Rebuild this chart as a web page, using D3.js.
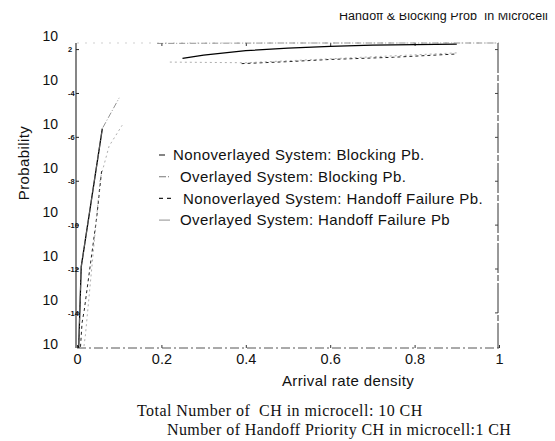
<!DOCTYPE html>
<html>
<head>
<meta charset="utf-8">
<script src="https://cdn.jsdelivr.net/npm/d3@7"></script>
<style>
  body { margin: 0; background: #fff; }
  svg { display: block; }
  text { font-family: Arial, "Liberation Sans", sans-serif; fill: #111; white-space: pre; }
  .serif { font-family: "Times New Roman", "Liberation Serif", serif; }
</style>
</head>
<body>
<div id="chart"></div>
<script>
// values, y given as log10(probability); null = line not visible in scan
var blockNonX   = [0, 0.01, 0.06, 0.15, 0.25, 0.3, 0.4, 0.5, 0.6, 0.7, 0.8, 0.9];
var blockNonLog = [-18, -11.9, -5.6, null, -2.4, -2.25, -2.05, -1.93, -1.85, -1.8, -1.77, -1.75];

var blockOvX   = [0, 0.01, 0.06, 0.1, 0.15, 0.19, 0.3, 0.5, 0.7, 0.9, 1.0];
var blockOvLog = [-18, -11.9, -5.6, -4.2, null, -1.72, -1.71, -1.7, -1.7, -1.7, -1.7];

var handNonX   = [0, 0.012, 0.017, 0.047, 0.059, 0.2, 0.39, 0.5, 0.6, 0.75, 0.9];
var handNonLog = [-18, -14.45, -13.9, -9.6, -7.4, null, -2.64, -2.55, -2.45, -2.35, -2.2];

var handOvX   = [0, 0.02, 0.055, 0.076, 0.107, 0.15, 0.22, 0.4, 0.6, 0.9];
var handOvLog = [-18, -15, -7.9, -6.4, -5.45, null, -2.57, -2.6, -2.42, -2.15];

var seriesNames = [
    "Nonoverlayed System: Blocking Pb.",
    "Overlayed System: Blocking Pb.",
    "Nonoverlayed System: Handoff Failure Pb.",
    "Overlayed System: Handoff Failure Pb"
];

var xTicks = [0, 0.2, 0.4, 0.6, 0.8, 1];
var xTickLabels = ["0", "0.2", "0.4", "0.6", "0.8", "1"];
var yTicks = [1e-2, 1e-4, 1e-6, 1e-8, 1e-10, 1e-12, 1e-14, 1e-16];
var yExpLabels = ["2", "-4", "-6", "-8", "-10", "-12", "-14", ""];

var title = "Handoff & Blocking Prob  in Microcell";
var xTitle = "Arrival rate density";
var yTitle = "Probability";
var notes = ["Total Number of  CH in microcell: 10 CH",
             "Number of Handoff Priority CH in microcell:1 CH"];

(function () {
    "use strict";

    var W = 555, H = 441;
    var plot = {left: 77, right: 499, top: 43, bottom: 348};

    var svg = d3.select("#chart").append("svg")
        .attr("width", W).attr("height", H);

    var x = d3.scaleLinear().domain([0, 1]).range([plot.left, plot.right]);
    var y = d3.scaleLog().domain([Math.pow(10, -15.6), Math.pow(10, -1.7)])
        .range([plot.bottom, plot.top]);

    var defs = svg.append("defs");
    defs.append("clipPath").attr("id", "plotClip").append("rect")
        .attr("x", plot.left - 1).attr("y", plot.top - 4)
        .attr("width", plot.right - plot.left + 2).attr("height", plot.bottom - plot.top + 4);
    // title is cut off at the top in the scan
    defs.append("clipPath").attr("id", "titleClip").append("rect")
        .attr("x", 0).attr("y", 13).attr("width", W).attr("height", 20);

    svg.append("text")
        .attr("clip-path", "url(#titleClip)")
        .attr("x", 548).attr("y", 20)
        .attr("text-anchor", "end")
        .style("font-size", "12.5px")
        .style("letter-spacing", "0.1px")
        .text(title);

    // frame: left solid, bottom / right / top broken as in the copy
    svg.append("line")
        .attr("x1", plot.left - 1).attr("x2", plot.left - 1)
        .attr("y1", plot.top).attr("y2", plot.bottom)
        .style("stroke", "#222").style("stroke-width", 1.1);
    svg.append("line")
        .attr("x1", plot.left).attr("x2", plot.right)
        .attr("y1", plot.bottom).attr("y2", plot.bottom)
        .style("stroke", "#555").style("stroke-width", 1)
        .style("stroke-dasharray", "9,3,2,3");
    svg.append("line")
        .attr("x1", plot.right - 1).attr("x2", plot.right - 1)
        .attr("y1", plot.top).attr("y2", plot.bottom)
        .style("stroke", "#333").style("stroke-width", 1)
        .style("stroke-dasharray", "30,2,6,2");
    svg.append("line")
        .attr("x1", plot.left).attr("x2", plot.right)
        .attr("y1", plot.top).attr("y2", plot.top)
        .style("stroke", "#bbb").style("stroke-width", 0.7)
        .style("stroke-dasharray", "2,6");

    // x axis ticks and labels (bottom), small ticks on top too
    var xAxis = d3.axisBottom(x).tickValues(xTicks)
        .tickFormat(function (d, i) { return xTickLabels[i]; })
        .tickSize(-3).tickPadding(6);
    var gx = svg.append("g")
        .attr("transform", "translate(0," + plot.bottom + ")")
        .call(xAxis);
    gx.select(".domain").remove();
    gx.selectAll(".tick line").style("stroke", "#333");
    gx.selectAll(".tick text")
        .style("font-size", "14.5px")
        .style("font-family", "Arial, 'Liberation Sans', sans-serif")
        .style("fill", "#111");

    var gxTop = svg.append("g")
        .attr("transform", "translate(0," + plot.top + ")")
        .call(d3.axisTop(x).tickValues(xTicks.slice(1, 5)).tickSize(-3).tickFormat(""));
    gxTop.select(".domain").remove();
    gxTop.selectAll(".tick line").style("stroke", "#333");

    // y axis: "10" with the exponent shifted below-right, as printed
    var yVisible = yTicks.filter(function (t) { return y(t) <= plot.bottom; });
    svg.selectAll(".ytick").data(yVisible).enter().append("line")
        .attr("class", "ytick")
        .attr("x1", plot.left - 1).attr("x2", plot.left + 2)
        .attr("y1", function (d) { return y(d); })
        .attr("y2", function (d) { return y(d); })
        .style("stroke", "#222");
    svg.selectAll(".yright").data(yVisible).enter().append("line")
        .attr("class", "yright")
        .attr("x1", plot.right - 1).attr("x2", plot.right - 4)
        .attr("y1", function (d) { return y(d); })
        .attr("y2", function (d) { return y(d); })
        .style("stroke", "#444");

    svg.selectAll(".ybase").data(yTicks).enter().append("text")
        .attr("class", "ybase")
        .attr("x", 58).attr("y", function (d) { return y(d) - 13; })
        .attr("dy", "0.35em")
        .attr("text-anchor", "end")
        .style("font-size", "14px")
        .text("10");
    svg.selectAll(".yexp").data(yTicks).enter().append("text")
        .attr("class", "yexp")
        .attr("x", 68).attr("y", function (d) { return y(d); })
        .attr("dy", "0.35em")
        .style("font-size", "7.5px")
        .style("font-weight", "bold")
        .text(function (d, i) { return yExpLabels[i]; });

    svg.append("text")
        .attr("transform", "translate(29,163) rotate(-90)")
        .attr("text-anchor", "middle")
        .style("font-size", "15px")
        .style("letter-spacing", "0.4px")
        .text(yTitle);

    svg.append("text")
        .attr("x", 348).attr("y", 386)
        .attr("text-anchor", "middle")
        .style("font-size", "15px")
        .style("letter-spacing", "0.4px")
        .text(xTitle);

    // curves
    var series = [
        {xs: blockNonX, ys: blockNonLog, stroke: "#000", width: 1.3, dash: null},
        {xs: blockOvX, ys: blockOvLog, stroke: "#777", width: 0.8, dash: "6,2,1,2"},
        {xs: handNonX, ys: handNonLog, stroke: "#222", width: 1, dash: "3,3"},
        {xs: handOvX, ys: handOvLog, stroke: "#999", width: 0.8, dash: "2,3"}
    ];

    var line = d3.line()
        .defined(function (d) { return d[1] !== null; })
        .x(function (d) { return x(d[0]); })
        .y(function (d) { return y(Math.pow(10, d[1])); });

    var curves = svg.append("g").attr("clip-path", "url(#plotClip)");
    series.forEach(function (s) {
        var pts = s.xs.map(function (v, i) { return [v, s.ys[i]]; });
        curves.append("path")
            .datum(pts)
            .attr("d", line)
            .style("fill", "none")
            .style("stroke", s.stroke)
            .style("stroke-width", s.width)
            .style("stroke-dasharray", s.dash);
    });

    // legend, placed inside the axes
    var legendSample = [6, 11, 15, 11];
    var legendTextX = [173, 180, 183, 180];
    var legend = svg.append("g");
    seriesNames.forEach(function (name, i) {
        var ly = 155 + i * 21.7;
        legend.append("line")
            .attr("x1", 159).attr("x2", 159 + legendSample[i])
            .attr("y1", ly).attr("y2", ly)
            .style("stroke", i === 0 ? "#222" : series[i].stroke)
            .style("stroke-width", 1.1)
            .style("stroke-dasharray", i === 2 ? "4,4" : (i === 1 ? "7,2,1,2" : null));
        legend.append("text")
            .attr("x", legendTextX[i]).attr("y", ly)
            .attr("dy", "0.35em")
            .style("font-size", "15px")
            .style("letter-spacing", "0.4px")
            .text(name);
    });

    // notes under the chart
    svg.append("text").attr("class", "serif")
        .attr("x", 137).attr("y", 416)
        .style("font-size", "16px")
        .style("letter-spacing", "0.45px")
        .text(notes[0]);
    svg.append("text").attr("class", "serif")
        .attr("x", 167).attr("y", 435)
        .style("font-size", "16px")
        .style("letter-spacing", "0.4px")
        .text(notes[1]);
}());
</script>
</body>
</html>
